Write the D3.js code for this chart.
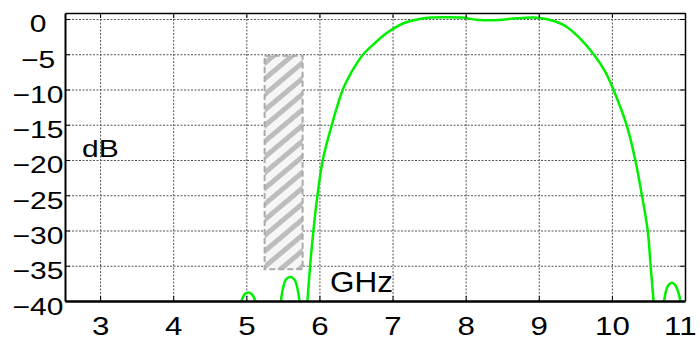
<!DOCTYPE html>
<html>
<head>
<meta charset="utf-8">
<script src="https://cdn.jsdelivr.net/npm/d3@7"></script>
<style>
  body { margin: 0; background: #fff; }
  text { font-family: "Liberation Sans", Arial, sans-serif; fill: #000; }
</style>
</head>
<body>
<div id="chart"></div>
<script>
// tick values
var xTicks = [3, 4, 5, 6, 7, 8, 9, 10, 11];
var yTicks = [0, -5, -10, -15, -20, -25, -30, -35, -40];

// main passband response (GHz, dB)
var passGHz = [5.825, 5.836, 5.873, 5.918, 5.973, 6.046, 6.17, 6.32, 6.44, 6.60, 6.76, 6.92, 7.15, 7.33, 7.45, 7.7, 7.95, 8.15, 8.45, 8.7, 8.92, 9.1, 9.29, 9.38, 9.55, 9.75, 9.91, 10.02, 10.20, 10.32, 10.41, 10.49, 10.53, 10.57, 10.585];
var passDb  = [-42, -40, -35, -30, -25, -20, -15, -10, -7.5, -5, -3.4, -2, -0.6, -0.1, 0.15, 0.25, 0.2, -0.1, -0.15, 0.1, 0.2, 0.0, -0.6, -1.1, -2.6, -5, -7.5, -10, -15, -20, -25, -30, -35, -40, -42];

// side lobes
var lobe1GHz = [4.90, 4.94, 4.98, 5.03, 5.08, 5.12, 5.16];
var lobe1Db  = [-41.5, -39.8, -39.0, -38.8, -39.1, -39.9, -41.5];
var lobe2GHz = [5.46, 5.49, 5.54, 5.60, 5.66, 5.71, 5.74];
var lobe2Db  = [-41.5, -38.8, -37.0, -36.6, -37.0, -38.8, -41.5];
var lobe3GHz = [10.70, 10.73, 10.77, 10.82, 10.87, 10.92, 10.96];
var lobe3Db  = [-41.5, -39.0, -37.8, -37.4, -37.8, -39.2, -41.5];

// hatched mask box
var maskGHz = [5.25, 5.77];
var maskDb  = [-5.2, -35.5];

var width = 700, height = 340,
    plot = {left: 65, right: 685, top: 13, bottom: 301};

var svg = d3.select('#chart')
  .append('svg')
  .attr('width', width)
  .attr('height', height);

var x = d3.scaleLinear().domain([2.52, 11]).range([plot.left, plot.right]);
var y = d3.scaleLinear().domain([-40, 0.85]).range([plot.bottom, plot.top]);

var defs = svg.append('defs');
defs.append('clipPath').attr('id', 'clip')
  .append('rect')
  .attr('x', plot.left).attr('y', plot.top)
  .attr('width', plot.right - plot.left).attr('height', plot.bottom - plot.top);

var pat = defs.append('pattern')
  .attr('id', 'hatch')
  .attr('patternUnits', 'userSpaceOnUse')
  .attr('width', 12).attr('height', 12)
  .attr('patternTransform', 'rotate(-40)');
pat.append('rect').attr('width', 12).attr('height', 12).attr('fill', '#f6f6f6');
pat.append('rect').attr('width', 12).attr('height', 5).attr('fill', '#bdbdbd');

// grid
svg.append('g')
  .attr('transform', 'translate(0,' + plot.bottom + ')')
  .call(d3.axisBottom(x).tickValues(xTicks).tickSize(-(plot.bottom - plot.top)).tickFormat(''))
  .call(function (g) { g.select('.domain').remove(); })
  .selectAll('line').attr('stroke', '#555').attr('stroke-dasharray', '2,1.5');

svg.append('g')
  .attr('transform', 'translate(' + plot.left + ',0)')
  .call(d3.axisLeft(y).tickValues(yTicks.slice(0, -1)).tickSize(-(plot.right - plot.left)).tickFormat(''))
  .call(function (g) { g.select('.domain').remove(); })
  .selectAll('line').attr('stroke', '#555').attr('stroke-dasharray', '2,1.5');

// mask box
svg.append('rect')
  .attr('x', x(maskGHz[0]))
  .attr('y', y(maskDb[0]))
  .attr('width', x(maskGHz[1]) - x(maskGHz[0]))
  .attr('height', y(maskDb[1]) - y(maskDb[0]))
  .attr('fill', 'url(#hatch)')
  .attr('stroke', '#aaa')
  .attr('stroke-width', 2)
  .attr('stroke-dasharray', '6,3');

// curves
var line = d3.line()
  .x(function (d) { return x(d[0]); })
  .y(function (d) { return y(d[1]); })
  .curve(d3.curveCatmullRom.alpha(0.5));

var curves = svg.append('g').attr('clip-path', 'url(#clip)');
[[passGHz, passDb], [lobe1GHz, lobe1Db], [lobe2GHz, lobe2Db], [lobe3GHz, lobe3Db]].forEach(function (s) {
  curves.append('path')
    .datum(d3.zip(s[0], s[1]))
    .attr('d', line)
    .attr('fill', 'none')
    .attr('stroke', '#00f000')
    .attr('stroke-width', 2.5);
});

// frame axes with inward ticks
var xb = svg.append('g')
  .attr('transform', 'translate(0,' + plot.bottom + ')')
  .call(d3.axisBottom(x).tickValues(xTicks).tickSize(-5).tickSizeOuter(0).tickPadding(0));
xb.select('.domain').attr('stroke-width', 2.5);
xb.selectAll('.tick text')
  .attr('font-size', 25)
  .attr('y', 34)
  .attr('dy', 0)
  .attr('transform', 'scale(1.25,1)')
  .attr('x', 0);
// last label sits against the right edge
xb.selectAll('.tick text').filter(function (d) { return d === 11; })
  .attr('text-anchor', 'end')
  .attr('x', 11 / 1.25);

var xt = svg.append('g')
  .attr('transform', 'translate(0,' + plot.top + ')')
  .call(d3.axisTop(x).tickValues(xTicks).tickSize(-5).tickSizeOuter(0).tickFormat(''));
xt.select('.domain').attr('stroke-width', 1.5);

var yl = svg.append('g')
  .attr('transform', 'translate(' + plot.left + ',0)')
  .call(d3.axisLeft(y).tickValues(yTicks).tickSize(-5).tickSizeOuter(0));
yl.select('.domain').attr('stroke-width', 2);
yl.selectAll('.tick text')
  .attr('font-size', 24)
  .attr('text-anchor', 'middle')
  .attr('x', -27 / 1.25)
  .attr('dy', 13)
  .attr('transform', 'scale(1.25,1)');

var yr = svg.append('g')
  .attr('transform', 'translate(' + plot.right + ',0)')
  .call(d3.axisRight(y).tickValues(yTicks).tickSize(-5).tickSizeOuter(0).tickFormat(''));
yr.select('.domain').attr('stroke-width', 1.5);

svg.selectAll('.tick line').filter(function () { return !this.getAttribute('stroke-dasharray'); })
  .attr('stroke', '#000');

// labels
svg.append('text')
  .attr('x', 82).attr('y', 157)
  .attr('font-size', 24)
  .attr('transform', 'translate(82,157) scale(1.25,1) translate(-82,-157)')
  .text('dB');

svg.append('text')
  .attr('x', 330).attr('y', 292)
  .attr('font-size', 30)
  .attr('transform', 'translate(330,292) scale(1.05,1) translate(-330,-292)')
  .text('GHz');
</script>
</body>
</html>
